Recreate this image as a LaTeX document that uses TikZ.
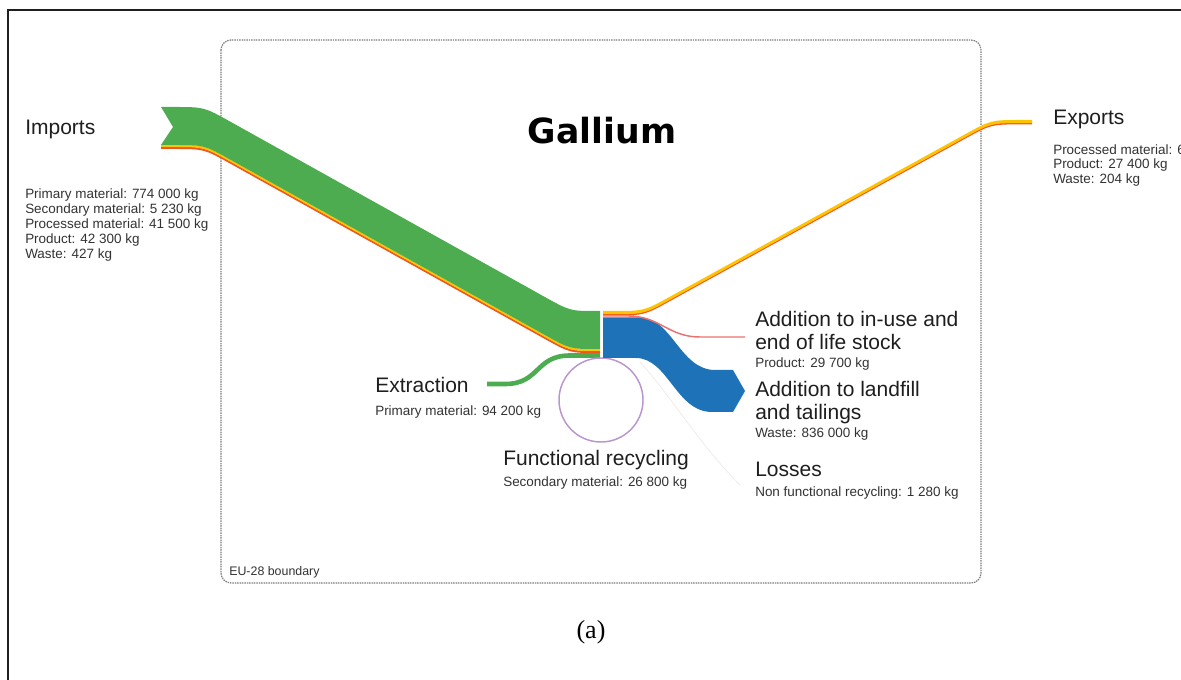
\documentclass[tikz,border=0pt]{standalone}
\usepackage{fontspec}
\setmainfont{Liberation Sans}
\newfontfamily\galfont{DejaVu Sans}
\newfontfamily\capfont{Liberation Serif}
\definecolor{sgreen}{RGB}{77,172,80}
\definecolor{sblue}{RGB}{30,114,184}
\definecolor{syellow}{RGB}{255,196,0}
\definecolor{sorange}{RGB}{238,88,32}
\definecolor{spink}{RGB}{236,112,112}
\definecolor{spurple}{RGB}{185,150,205}
\definecolor{sgray}{RGB}{125,125,125}
\definecolor{stext}{RGB}{30,30,30}
\definecolor{sdetail}{RGB}{50,50,50}
\definecolor{sloss}{RGB}{242,234,234}
\tikzset{
  head/.style={anchor=base west, inner sep=0pt, text=stext, font=\fontsize{15.75}{18}\selectfont},
  detail/.style={anchor=base west, inner sep=0pt, text=sdetail, font=\fontsize{10.1}{12}\selectfont},
  boundary/.style={draw=sgray, line width=0.9pt, dash pattern=on 1.1pt off 0.7pt, rounded corners=7.5pt},
  frameline/.style={draw=black!88, line width=1.7pt},
}
% import bundle layer: colour, top offset, bottom offset
\newcommand\implayer[3]{%
  \fill[#1] (161,{107+#2}) -- (174,{107+#2}) .. controls (204,{107+#2}) .. (230.2,{121.6+#2})
    -- (543.8,{296.4+#2}) .. controls (570,{311+#2}) .. (596,{311+#2}) -- (600,{311+#2})
    -- (600,{311+#3}) -- (596,{311+#3}) .. controls (570,{311+#3}) .. (543.8,{296.4+#3})
    -- (230.2,{121.6+#3}) .. controls (204,{107+#3}) .. (174,{107+#3}) -- (161,{107+#3})}
% export bundle layer
\newcommand\explayer[3]{%
  \fill[#1] (603,{311+#2}) -- (614,{311+#2}) .. controls (644,{311+#2}) .. (670.3,{296.5+#2})
    -- (964.7,{134.5+#2}) .. controls (991,{120+#2}) .. (1021,{120+#2}) -- (1032,{120+#2})
    -- (1032,{120+#3}) -- (1021,{120+#3}) .. controls (991,{120+#3}) .. (964.7,{134.5+#3})
    -- (670.3,{296.5+#3}) .. controls (644,{311+#3}) .. (614,{311+#3}) -- (603,{311+#3}) -- cycle;}
\begin{document}
\begin{tikzpicture}[x=0.75pt,y=-0.75pt]
\useasboundingbox (0,0) rectangle (1181,680);
% outer frame
\draw[frameline] (1181,10) -- (7.8,10) -- (7.8,680);
% EU boundary
\draw[boundary] (221,40) rectangle (981,583);
\node[anchor=base west, inner sep=0pt, text=sdetail, font=\fontsize{9.3}{11}\selectfont] (eu) at (229,575) {EU-28 boundary};
% title
\node[inner sep=0pt, text=black, font=\galfont\bfseries\fontsize{26}{30}\selectfont] (title) at (602,131) {Gallium};
% import bundle
\implayer{sorange}{39.8}{42} -- cycle;
\implayer{syellow}{37.8}{40} -- cycle;
\implayer{sgreen}{0}{38} -- (173,127) -- cycle;
% extraction
\coordinate (extstart) at (487,384);
\coordinate (junctionL) at (600,355.5);
\draw[sgreen, line width=3.45pt] (extstart) -- (505,384) .. controls (540,384) and (535,355.5) .. (570,355.5) -- (junctionL);
% functional recycling loop
\draw[spurple, line width=1.1pt] (601,400) circle[radius=42];
% losses (faint)
\coordinate (lossend) at (740,485);
\draw[sloss, line width=0.6pt] (640,362) .. controls (670,395) and (700,445) .. (lossend);
% landfill (blue)
\fill[sblue] (603,317.5) -- (640,317.5) .. controls (672,317.5) and (680,370) .. (715,370) -- (733,370)
  -- (745,391) -- (733,412) -- (712,412) .. controls (676,412) and (668,358) .. (636,358) -- (603,358) -- cycle;
% addition to in-use stock (product)
\coordinate (usestart) at (603,316);
\coordinate (useend) at (745,337);
\draw[spink, line width=1.1pt] (usestart) -- (628,316) .. controls (660,316) and (668,337) .. (700,337) -- (useend);
% exports
\explayer{sorange}{2.8}{4.4}
\explayer{syellow}{0}{3.1}
% labels
\node[head] (imp) at (25,135) {Imports};
\node[detail] (imp1) at (25,199) {Primary material: 774 000 kg};
\node[detail] (imp2) at (25,214) {Secondary material: 5 230 kg};
\node[detail] (imp3) at (25,229) {Processed material: 41 500 kg};
\node[detail] (imp4) at (25,244) {Product: 42 300 kg};
\node[detail] (imp5) at (25,259) {Waste: 427 kg};
\node[head] (exp) at (1053,125) {Exports};
\node[detail] (exp1) at (1053,155) {Processed material: 6};
\node[detail] (exp2) at (1053,169) {Product: 27 400 kg};
\node[detail] (exp3) at (1053,184) {Waste: 204 kg};
\node[head] (ext) at (375,393) {Extraction};
\node[detail] (ext1) at (375,416) {Primary material: 94 200 kg};
\node[head] (rec) at (503,465) {Functional recycling};
\node[detail] (rec1) at (503,487) {Secondary material: 26 800 kg};
\node[head] (use) at (755,327) {Addition to in-use and};
\node[head] (use2) at (755,350) {end of life stock};
\node[detail] (use3) at (755,368) {Product: 29 700 kg};
\node[head] (land) at (755,397) {Addition to landfill};
\node[head] (land2) at (755,420) {and tailings};
\node[detail] (land3) at (755,438) {Waste: 836 000 kg};
\node[head] (loss) at (755,477) {Losses};
\node[detail] (loss1) at (755,497) {Non functional recycling: 1 280 kg};
% caption
\node[inner sep=0pt, font=\capfont\fontsize{19.5}{22}\selectfont] (cap) at (591,632) {(a)};
\end{tikzpicture}
\end{document}
